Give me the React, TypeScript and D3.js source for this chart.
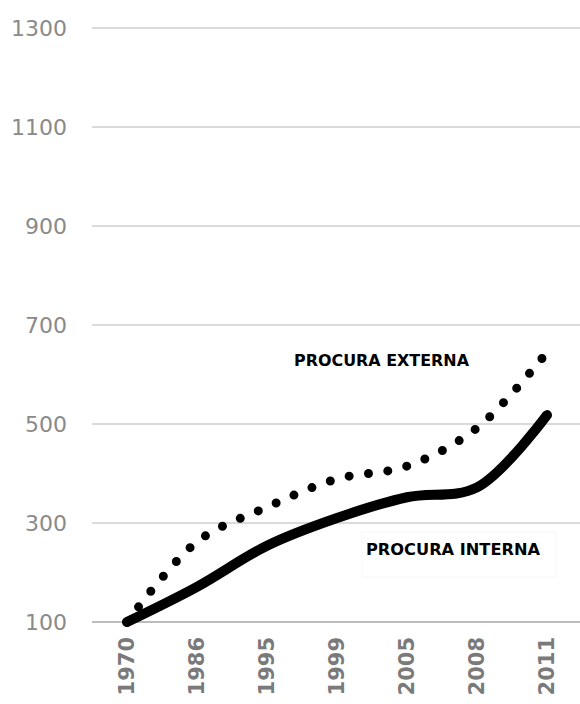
import React from "react";
import * as d3 from "d3";

const years = ["1970", "1986", "1995", "1999", "2005", "2008", "2011"];
const externa = [100, 262, 332, 389, 415, 492, 645];
const interna = [100, 171, 254, 310, 352, 372, 518];
const yTicks = [100, 300, 500, 700, 900, 1100, 1300];
const labelExterna = "PROCURA EXTERNA";
const labelInterna = "PROCURA INTERNA";

export default function App() {
  const W = 580;
  const H = 704;
  const x = d3.scalePoint<string>().domain(years).range([92, 582]).padding(0.5);
  const y = d3.scaleLinear().domain([100, 1300]).range([622, 28]);
  const line = d3
    .line<number>()
    .x((_, i) => x(years[i]) as number)
    .y((d) => y(d))
    .curve(d3.curveCatmullRom.alpha(0.5));

  return (
    <svg
      width={W}
      height={H}
      style={{ position: "absolute", left: 0, top: 0, background: "#fff" }}
      fontFamily="'DejaVu Sans', Verdana, sans-serif"
    >
      <rect x={0} y={0} width={W} height={H} fill="#fff" />
      {yTicks.map((t) => (
        <g key={t}>
          <line
            x1={92}
            x2={W}
            y1={y(t)}
            y2={y(t)}
            stroke={t === 100 ? "#bdbdbd" : "#dadada"}
            strokeWidth={2}
          />
          <text
            x={67}
            y={y(t)}
            textAnchor="end"
            dominantBaseline="central"
            fontSize={22}
            fill="#8a8a8a"
          >
            {t}
          </text>
        </g>
      ))}
      {years.map((yr) => (
        <text
          key={yr}
          transform={`translate(${x(yr)},637) rotate(-90)`}
          textAnchor="end"
          dominantBaseline="central"
          fontSize={21}
          fontWeight="bold"
          fill="#7a7a7a"
        >
          {yr}
        </text>
      ))}
      <path
        d={line(externa) || ""}
        fill="none"
        stroke="#000"
        strokeWidth={9}
        strokeLinecap="round"
        strokeDasharray="0 19.5"
      />
      <path
        d={line(interna) || ""}
        fill="none"
        stroke="#000"
        strokeWidth={10}
        strokeLinecap="round"
      />
      <text
        x={294}
        y={366}
        fontSize={16.5}
        fontWeight="bold"
        fill="#000"
        textLength={175}
        lengthAdjust="spacingAndGlyphs"
      >
        {labelExterna}
      </text>
      <rect x={362} y={532} width={194} height={45} fill="none" stroke="#f7f7f7" strokeWidth={1} />
      <text
        x={366}
        y={555}
        fontSize={16.5}
        fontWeight="bold"
        fill="#000"
        textLength={174}
        lengthAdjust="spacingAndGlyphs"
      >
        {labelInterna}
      </text>
    </svg>
  );
}
